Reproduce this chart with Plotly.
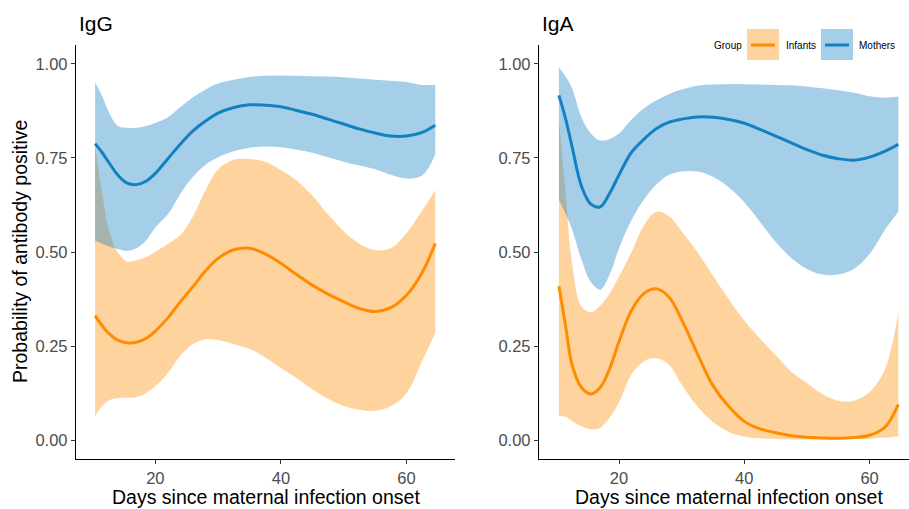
import plotly.graph_objects as go

W, H = 909, 509

days = [10.4, 11.5, 12.5, 14, 15.5, 17, 18.5, 20, 22, 24, 26, 28, 30, 32.5, 35,
        37.5, 40, 42.5, 45, 47.5, 50, 52.5, 55, 57.5, 60, 62.5, 64.6]

# IgG
igg_mothers_fit = [0.788, 0.765, 0.74, 0.705, 0.683, 0.679, 0.688, 0.709, 0.748, 0.787,
                   0.822, 0.848, 0.869, 0.884, 0.891, 0.89, 0.886, 0.876, 0.866, 0.853,
                   0.840, 0.827, 0.816, 0.808, 0.808, 0.818, 0.837]
igg_mothers_hi = [0.951, 0.915, 0.875, 0.835, 0.83, 0.83, 0.835, 0.843, 0.858, 0.885,
                  0.911, 0.932, 0.948, 0.958, 0.965, 0.968, 0.969, 0.968, 0.967, 0.966,
                  0.964, 0.961, 0.958, 0.955, 0.952, 0.944, 0.944]
igg_mothers_lo = [0.53, 0.522, 0.515, 0.508, 0.503, 0.51, 0.53, 0.565, 0.60, 0.655,
                  0.70, 0.732, 0.752, 0.768, 0.777, 0.78, 0.778, 0.772, 0.764, 0.752,
                  0.74, 0.73, 0.72, 0.705, 0.695, 0.703, 0.76]
igg_infants_fit = [0.331, 0.305, 0.285, 0.266, 0.259, 0.26, 0.27, 0.29, 0.325, 0.368,
                   0.408, 0.45, 0.483, 0.506, 0.51, 0.495, 0.47, 0.44, 0.412, 0.388,
                   0.368, 0.35, 0.342, 0.352, 0.385, 0.445, 0.523]
igg_infants_hi = [0.78, 0.66, 0.565, 0.50, 0.475, 0.478, 0.486, 0.50, 0.522, 0.545,
                  0.595, 0.665, 0.72, 0.745, 0.747, 0.74, 0.718, 0.69, 0.65, 0.60,
                  0.555, 0.522, 0.505, 0.51, 0.55, 0.61, 0.665]
igg_infants_lo = [0.064, 0.09, 0.105, 0.112, 0.113, 0.115, 0.125, 0.143, 0.178, 0.225,
                  0.255, 0.268, 0.266, 0.255, 0.243, 0.22, 0.192, 0.165, 0.135, 0.11,
                  0.091, 0.081, 0.078, 0.09, 0.125, 0.21, 0.285]

# IgA
iga_mothers_fit = [0.916, 0.852, 0.78, 0.675, 0.627, 0.62, 0.656, 0.705, 0.765, 0.80,
                   0.828, 0.845, 0.853, 0.859, 0.858, 0.852, 0.842, 0.826, 0.808, 0.79,
                   0.772, 0.757, 0.748, 0.744, 0.752, 0.768, 0.786]
iga_mothers_hi = [0.991, 0.965, 0.935, 0.858, 0.815, 0.796, 0.80, 0.815, 0.852, 0.882,
                  0.903, 0.92, 0.932, 0.942, 0.945, 0.946, 0.946, 0.945, 0.944, 0.943,
                  0.94, 0.935, 0.93, 0.923, 0.914, 0.91, 0.913]
iga_mothers_lo = [0.638, 0.60, 0.56, 0.48, 0.42, 0.40, 0.44, 0.51, 0.585, 0.64,
                  0.68, 0.705, 0.714, 0.714, 0.70, 0.672, 0.632, 0.58, 0.527, 0.484,
                  0.455, 0.44, 0.44, 0.455, 0.495, 0.56, 0.607]
iga_infants_fit = [0.409, 0.30, 0.20, 0.14, 0.123, 0.14, 0.19, 0.262, 0.345, 0.39,
                   0.402, 0.38, 0.32, 0.23, 0.145, 0.09, 0.05, 0.03, 0.02, 0.012,
                   0.008, 0.006, 0.005, 0.007, 0.013, 0.035, 0.095]
iga_infants_hi = [0.85, 0.65, 0.47, 0.355, 0.34, 0.358, 0.39, 0.435, 0.50, 0.572,
                  0.607, 0.595, 0.555, 0.50, 0.437, 0.375, 0.318, 0.27, 0.226, 0.182,
                  0.152, 0.122, 0.105, 0.105, 0.128, 0.19, 0.342]
iga_infants_lo = [0.064, 0.062, 0.05, 0.037, 0.029, 0.033, 0.06, 0.10, 0.175, 0.21,
                  0.218, 0.20, 0.148, 0.09, 0.048, 0.022, 0.01, 0.005, 0.003, 0.002,
                  0.002, 0.002, 0.002, 0.003, 0.004, 0.007, 0.01]

y_ticks = [0.0, 0.25, 0.5, 0.75, 1.0]
y_ticktext = ["0.00", "0.25", "0.50", "0.75", "1.00"]
x_ticks = [20, 40, 60]
panel_titles = ["IgG", "IgA"]
group_names = ["Infants", "Mothers"]

ORANGE = "#FF8C00"
ORANGE_FILL = "rgba(255,140,0,0.38)"
BLUE = "#1380C2"
BLUE_FILL = "rgba(19,128,194,0.38)"
FONT = "Liberation Sans, Arial, sans-serif"

fig = go.Figure()

panels = [
    ("x", "y", [(igg_infants_lo, igg_infants_hi, igg_infants_fit, ORANGE, ORANGE_FILL),
                (igg_mothers_lo, igg_mothers_hi, igg_mothers_fit, BLUE, BLUE_FILL)]),
    ("x2", "y2", [(iga_infants_lo, iga_infants_hi, iga_infants_fit, ORANGE, ORANGE_FILL),
                  (iga_mothers_lo, iga_mothers_hi, iga_mothers_fit, BLUE, BLUE_FILL)]),
]

for xa, ya, series in panels:
    for lo, hi, fit, col, fcol in series:
        fig.add_trace(go.Scatter(x=days, y=lo, xaxis=xa, yaxis=ya, mode="lines",
                                 line=dict(width=0, shape="spline", smoothing=1),
                                 showlegend=False, hoverinfo="skip"))
        fig.add_trace(go.Scatter(x=days, y=hi, xaxis=xa, yaxis=ya, mode="lines",
                                 line=dict(width=0, shape="spline", smoothing=1),
                                 fill="tonexty", fillcolor=fcol,
                                 showlegend=False, hoverinfo="skip"))
    for lo, hi, fit, col, fcol in series:
        fig.add_trace(go.Scatter(x=days, y=fit, xaxis=xa, yaxis=ya, mode="lines",
                                 line=dict(width=3, color=col, shape="spline", smoothing=1),
                                 showlegend=False))

def px_x(p):
    return p / W

def px_y(p):
    return 1 - p / H

axis_common = dict(showline=True, linecolor="black", linewidth=1.3, ticks="outside",
                   ticklen=4, tickwidth=1.1, tickcolor="#333333", showgrid=False,
                   zeroline=False, tickfont=dict(family=FONT, size=16.5, color="#4D4D4D"))

ydom = [px_y(459), px_y(45)]
fig.update_layout(
    width=W, height=H, margin=dict(l=0, r=0, t=0, b=0),
    paper_bgcolor="white", plot_bgcolor="white", showlegend=False,
    xaxis=dict(domain=[px_x(76), px_x(455)], range=[7.36, 67.74], tickvals=x_ticks,
               anchor="y", **axis_common),
    yaxis=dict(domain=ydom, range=[-0.05, 1.05], tickvals=y_ticks, ticktext=y_ticktext,
               anchor="x", **axis_common),
    xaxis2=dict(domain=[px_x(539), 1.0], range=[7.22, 66.3], tickvals=x_ticks,
                anchor="y2", **axis_common),
    yaxis2=dict(domain=ydom, range=[-0.05, 1.05], tickvals=y_ticks, ticktext=y_ticktext,
                anchor="x2", **axis_common),
)

ann = []
ann.append(dict(text=panel_titles[0], x=px_x(77), y=px_y(23), xref="paper", yref="paper",
                xanchor="left", yanchor="middle", showarrow=False,
                font=dict(family=FONT, size=21, color="black")))
ann.append(dict(text=panel_titles[1], x=px_x(540), y=px_y(23), xref="paper", yref="paper",
                xanchor="left", yanchor="middle", showarrow=False,
                font=dict(family=FONT, size=21, color="black")))
for cx in (265.5, 729):
    ann.append(dict(text="Days since maternal infection onset", x=px_x(cx), y=px_y(497),
                    xref="paper", yref="paper", xanchor="center", yanchor="middle",
                    showarrow=False, borderpad=0,
                    font=dict(family=FONT, size=19.5, color="black")))
ann.append(dict(text="Probability of antibody positive", x=px_x(20), y=px_y(252),
                xref="paper", yref="paper", xanchor="center", yanchor="middle",
                textangle=-90, showarrow=False,
                font=dict(family=FONT, size=19.5, color="black")))

# legend (drawn manually to mimic ggplot keys)
ann.append(dict(text="Group", x=px_x(712), y=px_y(45), xref="paper", yref="paper",
                xanchor="left", yanchor="middle", showarrow=False,
                font=dict(family=FONT, size=10, color="black")))
shapes = []
for (x0, x1, tx, col, fcol, name) in [(747, 779, 784, ORANGE, ORANGE_FILL, group_names[0]),
                                      (821, 853, 857, BLUE, BLUE_FILL, group_names[1])]:
    shapes.append(dict(type="rect", xref="paper", yref="paper", x0=px_x(x0), x1=px_x(x1),
                       y0=px_y(60), y1=px_y(29), fillcolor=fcol, line=dict(width=0)))
    shapes.append(dict(type="line", xref="paper", yref="paper", x0=px_x(x0 + 4), x1=px_x(x1 - 4),
                       y0=px_y(45), y1=px_y(45), line=dict(color=col, width=3)))
    ann.append(dict(text=name, x=px_x(tx), y=px_y(45), xref="paper", yref="paper",
                    xanchor="left", yanchor="middle", showarrow=False,
                    font=dict(family=FONT, size=10, color="black")))

fig.update_layout(annotations=ann, shapes=shapes)
fig.write_html("out.html", config={"displayModeBar": False},
               post_script="document.body.style.margin='0';document.body.style.overflow='hidden';")
